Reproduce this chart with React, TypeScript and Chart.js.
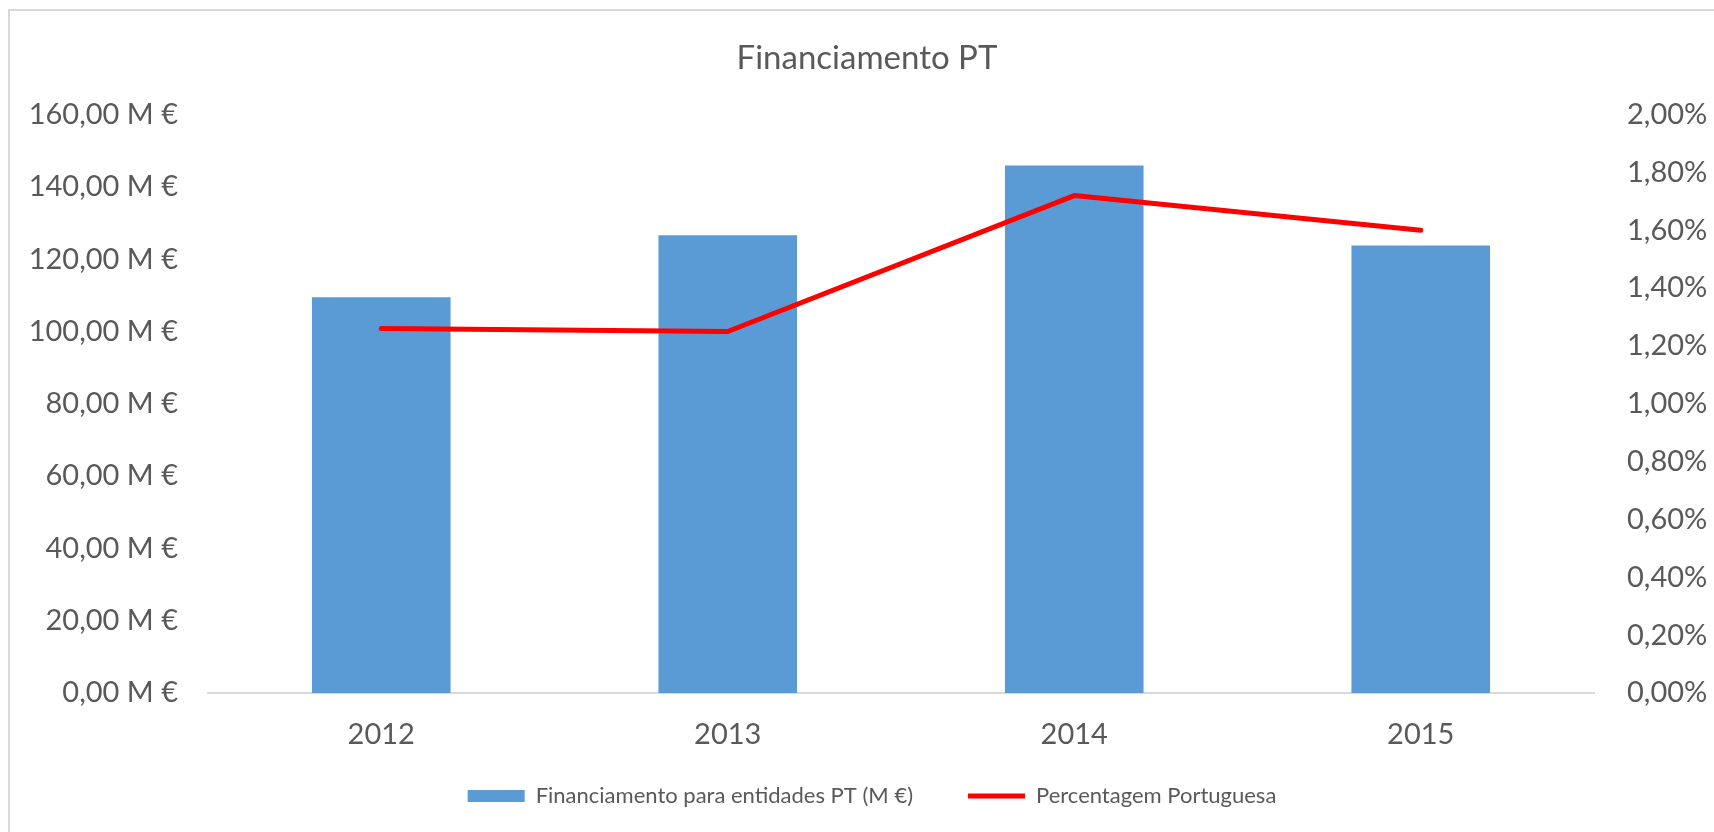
import React, { useEffect, useRef } from 'react';
import { Chart, registerables } from 'chart.js';

Chart.register(...registerables);

const chartTitle = 'Financiamento PT';
const categories = ['2012', '2013', '2014', '2015'];
const financiamento = [109.5, 126.6, 145.9, 123.8];
const percentagem = [1.26, 1.25, 1.72, 1.6];
const seriesLabels = ['Financiamento para entidades PT (M €)', 'Percentagem Portuguesa'];
const leftAxis = { min: 0, max: 160, step: 20 };
const rightAxis = { min: 0, max: 2, step: 0.2 };

const FONT = 'Lato';
const TEXT = '#595959';

// Places the legend row just under the x-axis area (legend item gap is wide, so its padding is large)
const legendPlacement = {
  id: 'legendPlacement',
  afterLayout(chart: any) {
    const lg = chart.legend;
    if (!lg) return;
    const dy = chart.chartArea.bottom + 37 - lg.top;
    lg.top += dy;
    lg.bottom += dy;
    lg.left += 5;
    lg.right += 5;
  },
};

export default function App() {
  const ref = useRef<HTMLCanvasElement | null>(null);

  useEffect(() => {
    if (!ref.current) return;
    const chart = new Chart(ref.current, {
      data: {
        labels: categories,
        datasets: [
          {
            type: 'bar',
            label: seriesLabels[0],
            data: financiamento,
            backgroundColor: '#5B9BD5',
            borderWidth: 0,
            barPercentage: 0.4,
            categoryPercentage: 1,
            yAxisID: 'y',
            order: 1,
          },
          {
            type: 'line',
            label: seriesLabels[1],
            data: percentagem,
            borderColor: '#FF0000',
            backgroundColor: '#FF0000',
            borderWidth: 5,
            borderCapStyle: 'round',
            borderJoinStyle: 'round',
            pointRadius: 0,
            pointHoverRadius: 0,
            tension: 0,
            yAxisID: 'y1',
            order: 0,
          },
        ],
      } as any,
      options: {
        responsive: false,
        animation: false,
        layout: { padding: { left: 20, right: 0, top: 0, bottom: -7.4 } },
        plugins: {
          tooltip: { enabled: false },
          title: {
            display: true,
            text: chartTitle,
            color: TEXT,
            font: { family: FONT, size: 33, weight: 'normal' },
            padding: { top: 39, bottom: 36 },
          },
          legend: {
            position: 'bottom',
            labels: {
              color: TEXT,
              font: { family: FONT, size: 22 },
              usePointStyle: true,
              pointStyleWidth: 57,
              boxHeight: 12,
              padding: 55,
              sort: (a: any, b: any) => a.datasetIndex - b.datasetIndex,
              generateLabels: (c: any) => {
                const items = (Chart.defaults.plugins.legend.labels as any).generateLabels(c);
                items.forEach((it: any) => {
                  it.pointStyle = it.datasetIndex === 0 ? 'rect' : 'line';
                });
                return items;
              },
            },
          },
        },
        scales: {
          x: {
            grid: { display: false, drawTicks: false },
            border: { display: true, color: '#D9D9D9', width: 2 },
            ticks: { color: TEXT, font: { family: FONT, size: 29 }, padding: 24.6 },
            afterFit: (s: any) => { s.height = 59.4; },
          },
          y: {
            position: 'left',
            min: leftAxis.min,
            max: leftAxis.max,
            grid: { display: false, drawTicks: false },
            border: { display: false },
            ticks: {
              stepSize: leftAxis.step,
              color: TEXT,
              font: { family: FONT, size: 29 },
              padding: 30,
              callback: (v: any) => Number(v).toFixed(2).replace('.', ',') + ' M €',
            },
            afterFit: (s: any) => { s.width = 188; },
          },
          y1: {
            position: 'right',
            min: rightAxis.min,
            max: rightAxis.max,
            grid: { display: false, drawTicks: false },
            border: { display: false },
            ticks: {
              stepSize: rightAxis.step,
              color: TEXT,
              font: { family: FONT, size: 29 },
              padding: 33,
              callback: (v: any) => Number(v).toFixed(2).replace('.', ',') + '%',
            },
            afterFit: (s: any) => { s.width = 120; },
          },
        },
      } as any,
      plugins: [legendPlacement],
    });
    return () => chart.destroy();
  }, []);

  return (
    <div style={{ position: 'fixed', left: 0, top: 0, right: 0, bottom: 0, overflow: 'hidden', background: '#fff' }}>
      <div
        style={{
          position: 'absolute',
          left: 8,
          top: 9,
          width: 2000,
          height: 2000,
          border: '2px solid #D9D9D9',
        }}
      />
      <canvas
        ref={ref}
        width={1714}
        height={832}
        style={{ position: 'absolute', left: 0, top: 0, width: 1714, height: 832 }}
      />
    </div>
  );
}
